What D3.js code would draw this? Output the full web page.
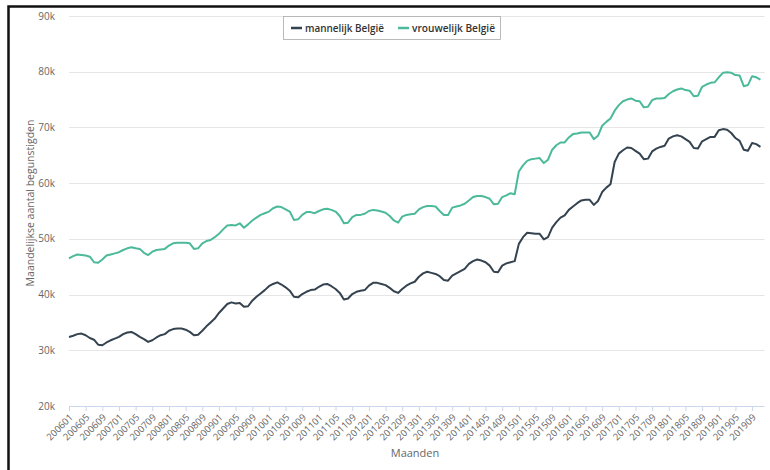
<!DOCTYPE html>
<html>
<head>
<meta charset="utf-8">
<script src="https://cdn.jsdelivr.net/npm/d3@7"></script>
<style>
  body { margin: 0; background: #fff; }
  svg { display: block; font-family: "Open Sans", "DejaVu Sans", sans-serif; }
</style>
</head>
<body>
<svg id="chart" width="770" height="470"></svg>
<script>
// months 200601 .. 201911
const months = [];
for (let y = 2006; y <= 2019; y++) {
  for (let m = 1; m <= 12; m++) {
    if (y === 2019 && m > 11) break;
    months.push(`${y}${String(m).padStart(2, "0")}`);
  }
}

const seriesNames = ["mannelijk België", "vrouwelijk België"];

// values in thousands
const mannelijk = [
  32.4, 32.6, 32.9, 33.0, 32.7, 32.2, 31.9, 31.0, 30.9, 31.4, 31.8, 32.1,
  32.4, 32.9, 33.2, 33.3, 32.9, 32.4, 32.0, 31.5, 31.8, 32.3, 32.7, 32.9,
  33.5, 33.8, 33.9, 33.9, 33.7, 33.3, 32.7, 32.8, 33.5, 34.3, 35.0, 35.7,
  36.7, 37.5, 38.3, 38.6, 38.4, 38.5, 37.8, 37.9, 38.9, 39.6, 40.2, 40.8,
  41.5, 41.9, 42.2, 41.8, 41.3, 40.7, 39.6, 39.5, 40.1, 40.5, 40.8, 40.9,
  41.4, 41.8, 41.9, 41.5, 41.0, 40.3, 39.1, 39.3, 40.1, 40.5, 40.7, 40.8,
  41.6, 42.1, 42.1, 41.9, 41.7, 41.2, 40.6, 40.3, 41.0, 41.6, 42.0, 42.3,
  43.2, 43.8, 44.1, 43.9, 43.7, 43.3, 42.6, 42.5, 43.4, 43.8, 44.2, 44.6,
  45.5, 46.0, 46.3, 46.1, 45.8, 45.2, 44.1, 44.0, 45.2, 45.6, 45.8, 46.0,
  49.1, 50.3, 51.1, 51.0, 50.9, 50.9, 49.9, 50.3, 52.0, 53.0, 53.8, 54.2,
  55.2, 55.8, 56.4, 56.9, 57.0, 57.0, 56.1, 56.8, 58.4, 59.2, 59.8, 63.8,
  65.3, 65.9, 66.4, 66.3, 65.8, 65.3, 64.3, 64.4, 65.7, 66.2, 66.5, 66.7,
  68.0, 68.4, 68.6, 68.4, 67.9, 67.4, 66.3, 66.2, 67.5, 67.9, 68.3, 68.3,
  69.5, 69.7, 69.6, 69.0, 68.1, 67.6, 66.0, 65.8, 67.2, 67.0, 66.5
];

const vrouwelijk = [
  46.5, 46.9, 47.2, 47.1, 47.0, 46.8, 45.8, 45.7, 46.3, 47.0, 47.2, 47.4,
  47.6, 48.0, 48.3, 48.5, 48.3, 48.2, 47.5, 47.1, 47.7, 48.0, 48.1, 48.2,
  48.8, 49.2, 49.3, 49.3, 49.3, 49.2, 48.2, 48.3, 49.2, 49.6, 49.8, 50.3,
  50.9, 51.7, 52.4, 52.5, 52.4, 52.8, 52.0, 52.6, 53.3, 53.8, 54.3, 54.6,
  54.9, 55.5, 55.8, 55.7, 55.3, 54.9, 53.4, 53.5, 54.3, 54.8, 54.8, 54.6,
  55.0, 55.3, 55.4, 55.2, 54.9, 54.1, 52.8, 52.9, 53.9, 54.3, 54.3, 54.5,
  55.0, 55.2, 55.1, 54.9, 54.7, 54.1, 53.3, 52.9, 54.0, 54.3, 54.4, 54.5,
  55.3, 55.7, 55.9, 55.9, 55.8, 55.0, 54.3, 54.3, 55.6, 55.8, 56.0, 56.3,
  56.9, 57.5, 57.7, 57.7, 57.5, 57.2, 56.2, 56.3, 57.5, 57.8, 58.2, 58.0,
  62.1, 63.2, 64.0, 64.3, 64.4, 64.5, 63.6, 64.2, 66.0, 66.8, 67.3, 67.3,
  68.2, 68.8, 68.9, 69.1, 69.1, 69.1, 67.9, 68.5, 70.3, 71.0, 71.6, 73.0,
  74.0, 74.7, 75.0, 75.2, 74.8, 74.7, 73.6, 73.7, 74.9, 75.2, 75.2, 75.3,
  76.0, 76.5, 76.8, 77.0, 76.7, 76.6, 75.6, 75.7, 77.3, 77.7, 78.0, 78.1,
  79.0, 79.8, 79.9, 79.8, 79.4, 79.3, 77.4, 77.6, 79.2, 79.0, 78.6
];

const yTicks = [20000, 30000, 40000, 50000, 60000, 70000, 80000, 90000];
const colors = ["#34434f", "#4cba9a"];

const svg = d3.select("#chart");
const margin = { left: 69, right: 5, top: 16, bottom: 64 };
const width = 770, height = 470;

// frame
svg.append("rect")
  .attr("x", 8.5).attr("y", 6.5)
  .attr("width", 800).attr("height", 500)
  .attr("fill", "none")
  .attr("stroke", "#111")
  .attr("stroke-width", 2.5);

const x = d3.scaleLinear()
  .domain([0, 167])
  .range([margin.left, width - margin.right - 0.4]);

const y = d3.scaleLinear()
  .domain([20000, 90000])
  .range([height - margin.bottom, margin.top]);

// Grid
svg.append("g")
  .selectAll("line")
  .data(yTicks.slice(1))
  .join("line")
  .attr("x1", x(0)).attr("x2", x(167))
  .attr("y1", d => Math.round(y(d)) + 0.5)
  .attr("y2", d => Math.round(y(d)) + 0.5)
  .attr("stroke", "#e6e6e6");

// Y labels
svg.append("g")
  .selectAll("text")
  .data(yTicks)
  .join("text")
  .attr("x", 55)
  .attr("y", d => y(d) + 3.5)
  .attr("text-anchor", "end")
  .attr("font-size", 10)
  .attr("fill", "#666")
  .text(d => d / 1000 + "k");

// X axis
const tickIdx = d3.range(0, months.length, 4);
const xAxis = svg.append("g")
  .attr("transform", `translate(0,${y(20000)})`)
  .call(d3.axisBottom(x).tickValues(tickIdx).tickSize(5).tickFormat(i => months[i]));
xAxis.select(".domain").attr("stroke", "#ccd6eb").attr("d", `M${x(0)},0.5H${x(167)}`);
xAxis.selectAll(".tick line").attr("stroke", "#ccd6eb");
xAxis.selectAll(".tick text")
  .attr("fill", "#666")
  .attr("font-size", 9.5)
  .attr("font-family", "'Open Sans', sans-serif")
  .attr("text-anchor", "end")
  .attr("dy", null)
  .attr("transform", "translate(4,12) rotate(-45)")
  .attr("y", 0).attr("x", 0);

// Lines
const line = d3.line()
  .x((d, i) => x(i))
  .y(d => y(d * 1000));

[mannelijk, vrouwelijk].forEach((s, k) => {
  svg.append("path")
    .datum(s)
    .attr("fill", "none")
    .attr("stroke", colors[k])
    .attr("stroke-width", 2)
    .attr("stroke-linejoin", "round")
    .attr("d", line);
});

// Legend
const lg = svg.append("g");
lg.append("rect")
  .attr("x", 283.5).attr("y", 16.5)
  .attr("width", 217).attr("height", 23)
  .attr("fill", "#fff")
  .attr("stroke", "#aaa")
  .attr("stroke-width", 0.8);
const legendX = [291, 398];
const legendW = [79, 83];
seriesNames.forEach((n, k) => {
  lg.append("line")
    .attr("x1", legendX[k]).attr("x2", legendX[k] + 11)
    .attr("y1", 28).attr("y2", 28)
    .attr("stroke", colors[k])
    .attr("stroke-width", 2.5);
  lg.append("text")
    .attr("x", legendX[k] + 14)
    .attr("y", 32)
    .attr("font-size", 11.5)
    .attr("font-weight", 600)
    .attr("fill", "#333")
    .attr("textLength", legendW[k])
    .attr("lengthAdjust", "spacingAndGlyphs")
    .text(n);
});

// Y-axis title
svg.append("text")
  .attr("transform", "rotate(-90)")
  .attr("x", -203)
  .attr("y", 34)
  .attr("text-anchor", "middle")
  .attr("font-size", 10.5)
  .attr("fill", "#666")
  .text("Maandelijkse aantal begunstigden");

// X-axis title
svg.append("text")
  .attr("x", 415)
  .attr("y", 457)
  .attr("text-anchor", "middle")
  .attr("font-size", 11)
  .attr("fill", "#666")
  .text("Maanden");
</script>
</body>
</html>
